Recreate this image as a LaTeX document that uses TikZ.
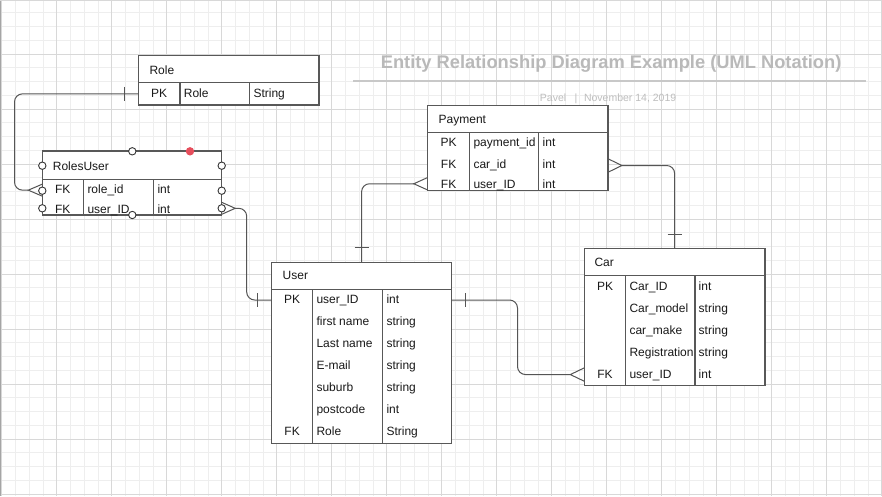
\documentclass[tikz,border=0pt]{standalone}
\usepackage{fontspec}
\setmainfont{Liberation Sans}
\definecolor{gminor}{RGB}{238,238,238}
\definecolor{gmajor}{RGB}{216,216,216}
\definecolor{gedge}{RGB}{165,165,165}
\definecolor{titlecol}{RGB}{185,185,185}
\definecolor{subcol}{RGB}{190,190,190}
\definecolor{rulecol}{RGB}{200,200,200}
\definecolor{tcol}{RGB}{88,88,88}
\definecolor{ccol}{RGB}{85,85,85}
\definecolor{txtcol}{RGB}{25,25,25}
\definecolor{reddot}{RGB}{230,78,92}
\begin{document}
\begin{tikzpicture}[x=1pt,y=-1pt,
  minorg/.style={draw=gminor,line width=0.75pt},
  majorg/.style={draw=gmajor,line width=0.9pt},
  tbl/.style={draw=tcol,line width=1.3pt,fill=white,inner sep=0pt,outer sep=0pt,anchor=north west},
  tl/.style={draw=tcol,line width=1.3pt},
  cell/.style={inner sep=0pt,anchor=base west,font=\fontsize{12}{12}\selectfont,text=txtcol},
  ccell/.style={cell,anchor=base},
  rowb/.style={inner sep=0pt,outer sep=0pt,anchor=north west},
  conn/.style={draw=ccol,line width=1pt,rounded corners=8pt},
  crow/.style={draw=ccol,line width=1pt},
  cpt/.style={circle,draw=black!80,fill=white,line width=0.9pt,minimum size=7.4pt,inner sep=0pt},
  rpt/.style={circle,fill=reddot,minimum size=8.4pt,inner sep=0pt}
]
\useasboundingbox (0,0) rectangle (882,496);
\fill[white] (0,0) rectangle (882,496);
% grid
\foreach \i in {0,...,64} {\draw[minorg] ({1.7+13.75*\i},0) -- ({1.7+13.75*\i},496);}
\foreach \j in {0,...,36} {\draw[minorg] (0,{-1+13.75*\j}) -- (882,{-1+13.75*\j});}
\foreach \i in {0,...,16} {\draw[majorg] ({1.7+55*\i},0) -- ({1.7+55*\i},496);}
\foreach \j in {0,...,9} {\draw[majorg] (0,{-1+55*\j}) -- (882,{-1+55*\j});}
\draw[draw=gedge,line width=1.3pt] (0.6,0) -- (0.6,496);
\draw[draw=gmajor,line width=1pt] (0,0.5) -- (882,0.5);

% title
\node[anchor=base west,inner sep=0pt,font=\fontsize{18.3}{18.3}\selectfont\bfseries,text=titlecol] (title) at (380.6,68.6) {Entity Relationship Diagram Example (UML Notation)};
\draw[draw=rulecol,line width=1.8pt] (353,80.7) -- (865.5,80.7);
\node[anchor=base west,inner sep=0pt,font=\fontsize{10.5}{10.5}\selectfont,text=subcol] (author) at (539.7,101.1) {Pavel};
\node[anchor=base,inner sep=0pt,font=\fontsize{10.5}{10.5}\selectfont,text=subcol] (sep) at (576,101.1) {|};
\node[anchor=base west,inner sep=0pt,font=\fontsize{10.5}{10.5}\selectfont,text=subcol] (date) at (583.8,101.1) {November 14, 2019};

% ===== Role =====
\node[tbl,minimum width=180.7pt,minimum height=49.3pt] (role) at (138.3,55.7) {};
\draw[tl] (138.3,82.7) -- (319,82.7);
\draw[tl] (180,82.7) -- (180,105);
\draw[tl] (249.3,82.7) -- (249.3,105);
\node[rowb,minimum width=180.7pt,minimum height=22.3pt] (role-r1) at (138.3,82.7) {};
\node[cell] (role-h) at (149.3,74.3) {Role};
\node[ccell] (role-k1) at (159.1,97) {PK};
\node[cell] (role-n1) at (183.7,97) {Role};
\node[cell] (role-t1) at (253.3,97) {String};

% ===== RolesUser =====
\node[tbl,minimum width=179.4pt,minimum height=64pt] (ru) at (42.3,151) {};
\draw[tl] (42.3,179.3) -- (221.7,179.3);
\draw[tl] (83.3,179.3) -- (83.3,215);
\draw[tl] (153.3,179.3) -- (153.3,215);
\node[rowb,minimum width=179.4pt,minimum height=21.7pt] (ru-r1) at (42.3,179.3) {};
\node[rowb,minimum width=179.4pt,minimum height=13.4pt] (ru-r2) at (42.3,201.6) {};
\node[cell] (ru-h) at (52.7,170) {RolesUser};
\node[ccell] (ru-k1) at (62.8,193.3) {FK};
\node[cell] (ru-n1) at (87.3,193.3) {role\_id};
\node[cell] (ru-t1) at (157.3,193.3) {int};
\node[ccell] (ru-k2) at (62.8,213.3) {FK};
\node[cell] (ru-n2) at (87.3,213.3) {user\_ID};
\node[cell] (ru-t2) at (157.3,213.3) {int};

% ===== Payment =====
\node[tbl,minimum width=180.1pt,minimum height=85pt] (pay) at (427.8,105.3) {};
\draw[tl] (427.8,132.3) -- (607.9,132.3);
\draw[tl] (469.5,132.3) -- (469.5,190.3);
\draw[tl] (538.7,132.3) -- (538.7,190.3);
\node[rowb,minimum width=180.1pt,minimum height=23pt] (pay-r2) at (427.8,154) {};
\node[rowb,minimum width=180.1pt,minimum height=13.1pt] (pay-r3) at (427.8,177.2) {};
\node[cell] (pay-h) at (438.5,123.3) {Payment};
\node[ccell] (pay-k1) at (448.6,146) {PK};
\node[cell] (pay-n1) at (473.3,146) {payment\_id};
\node[cell] (pay-t1) at (542.5,146) {int};
\node[ccell] (pay-k2) at (448.6,168.3) {FK};
\node[cell] (pay-n2) at (473.3,168.3) {car\_id};
\node[cell] (pay-t2) at (542.5,168.3) {int};
\node[ccell] (pay-k3) at (448.6,188.3) {FK};
\node[cell] (pay-n3) at (473.3,188.3) {user\_ID};
\node[cell] (pay-t3) at (542.5,188.3) {int};

% ===== User =====
\node[tbl,minimum width=180.2pt,minimum height=181pt] (user) at (271.5,262.3) {};
\draw[tl] (271.5,289.3) -- (451.7,289.3);
\draw[tl] (312.7,289.3) -- (312.7,443.3);
\draw[tl] (382.7,289.3) -- (382.7,443.3);
\node[rowb,minimum width=180.2pt,minimum height=21.4pt] (user-r1) at (271.5,289.3) {};
\node[cell] (user-h) at (282.5,279.3) {User};
\node[ccell] (user-k1) at (292.1,303.3) {PK};
\node[cell] (user-n1) at (316.3,303.3) {user\_ID};
\node[cell] (user-t1) at (386.3,303.3) {int};
\node[cell] (user-n2) at (316.3,325.3) {first name};
\node[cell] (user-t2) at (386.3,325.3) {string};
\node[cell] (user-n3) at (316.3,347.3) {Last name};
\node[cell] (user-t3) at (386.3,347.3) {string};
\node[cell] (user-n4) at (316.3,369.3) {E-mail};
\node[cell] (user-t4) at (386.3,369.3) {string};
\node[cell] (user-n5) at (316.3,391.3) {suburb};
\node[cell] (user-t5) at (386.3,391.3) {string};
\node[cell] (user-n6) at (316.3,413.3) {postcode};
\node[cell] (user-t6) at (386.3,413.3) {int};
\node[ccell] (user-k7) at (292.1,435.7) {FK};
\node[cell] (user-n7) at (316.3,435.7) {Role};
\node[cell] (user-t7) at (386.3,435.7) {String};

% ===== Car =====
\node[tbl,minimum width=180.7pt,minimum height=137.4pt] (car) at (584.3,248.3) {};
\draw[tl] (584.3,275.3) -- (765,275.3);
\draw[tl] (625.7,275.3) -- (625.7,385.7);
\draw[tl] (695,275.3) -- (695,385.7);
\node[rowb,minimum width=180.7pt,minimum height=22.3pt] (car-r5) at (584.3,363.4) {};
\node[cell] (car-h) at (594.3,266.6) {Car};
\node[ccell] (car-k1) at (605,290.3) {PK};
\node[cell] (car-n1) at (629.3,290.3) {Car\_ID};
\node[cell] (car-t1) at (698.5,290.3) {int};
\node[cell] (car-n2) at (629.3,312.3) {Car\_model};
\node[cell] (car-t2) at (698.5,312.3) {string};
\node[cell] (car-n3) at (629.3,334.3) {car\_make};
\node[cell] (car-t3) at (698.5,334.3) {string};
\node[cell] (car-n4) at (629.3,356.3) {Registration};
\node[cell] (car-t4) at (698.5,356.3) {string};
\node[ccell] (car-k5) at (605,378.3) {FK};
\node[cell] (car-n5) at (629.3,378.3) {user\_ID};
\node[cell] (car-t5) at (698.5,378.3) {int};

% ===== connectors =====
\coordinate (a1) at (14.5,0);
\coordinate (b1) at (246.7,0);
\coordinate (e1) at (517.5,0);
% Role -> RolesUser
\draw[conn] (role-r1.west) -- (role-r1.west -| a1) -- (ru-r1.west -| a1) -- ([xshift=-14pt]ru-r1.west);
\draw[crow] ([xshift=-14pt,yshift=7pt]role-r1.west) -- ([xshift=-14pt,yshift=-7pt]role-r1.west);
\draw[crow] ([yshift=6pt]ru-r1.west) -- ([xshift=-14pt]ru-r1.west) -- ([yshift=-6pt]ru-r1.west);
% RolesUser -> User
\draw[conn] ([xshift=13.5pt]ru-r2.east) -- (ru-r2.east -| b1) -- (user-r1.west -| b1) -- (user-r1.west);
\draw[crow] ([yshift=6pt]ru-r2.east) -- ([xshift=13.5pt]ru-r2.east) -- ([yshift=-6pt]ru-r2.east);
\draw[crow] ([xshift=-14pt,yshift=7pt]user-r1.west) -- ([xshift=-14pt,yshift=-7pt]user-r1.west);
% Payment -> User
\draw[conn] ([xshift=-14pt]pay-r3.west) -| (user.north);
\draw[crow] ([yshift=6.3pt]pay-r3.west) -- ([xshift=-14pt]pay-r3.west) -- ([yshift=-6.3pt]pay-r3.west);
\draw[crow] ([xshift=-7pt,yshift=15pt]user.north) -- ([xshift=7pt,yshift=15pt]user.north);
% Payment -> Car
\draw[conn] ([xshift=14pt]pay-r2.east) -| (car.north);
\draw[crow] ([yshift=6.8pt]pay-r2.east) -- ([xshift=14pt]pay-r2.east) -- ([yshift=-6.8pt]pay-r2.east);
\draw[crow] ([xshift=-7pt,yshift=14pt]car.north) -- ([xshift=7pt,yshift=14pt]car.north);
% User -> Car
\draw[conn] (user-r1.east) -- (user-r1.east -| e1) -- (car-r5.west -| e1) -- ([xshift=-14pt]car-r5.west);
\draw[crow] ([xshift=14pt,yshift=7pt]user-r1.east) -- ([xshift=14pt,yshift=-7pt]user-r1.east);
\draw[crow] ([yshift=6.7pt]car-r5.west) -- ([xshift=-14pt]car-r5.west) -- ([yshift=-6.7pt]car-r5.west);

% connection points on RolesUser
\node[cpt] (p1) at (42.3,165.7) {};
\node[cpt] (p2) at (42.3,190.7) {};
\node[cpt] (p3) at (42.3,208.3) {};
\node[cpt] (p4) at (221.7,165.7) {};
\node[cpt] (p5) at (221.7,190.7) {};
\node[cpt] (p6) at (221.7,208.3) {};
\node[cpt] (p7) at (132.3,151.3) {};
\node[cpt] (p8) at (132.3,215) {};
\node[rpt] (p9) at (190,151.3) {};
\end{tikzpicture}
\end{document}
